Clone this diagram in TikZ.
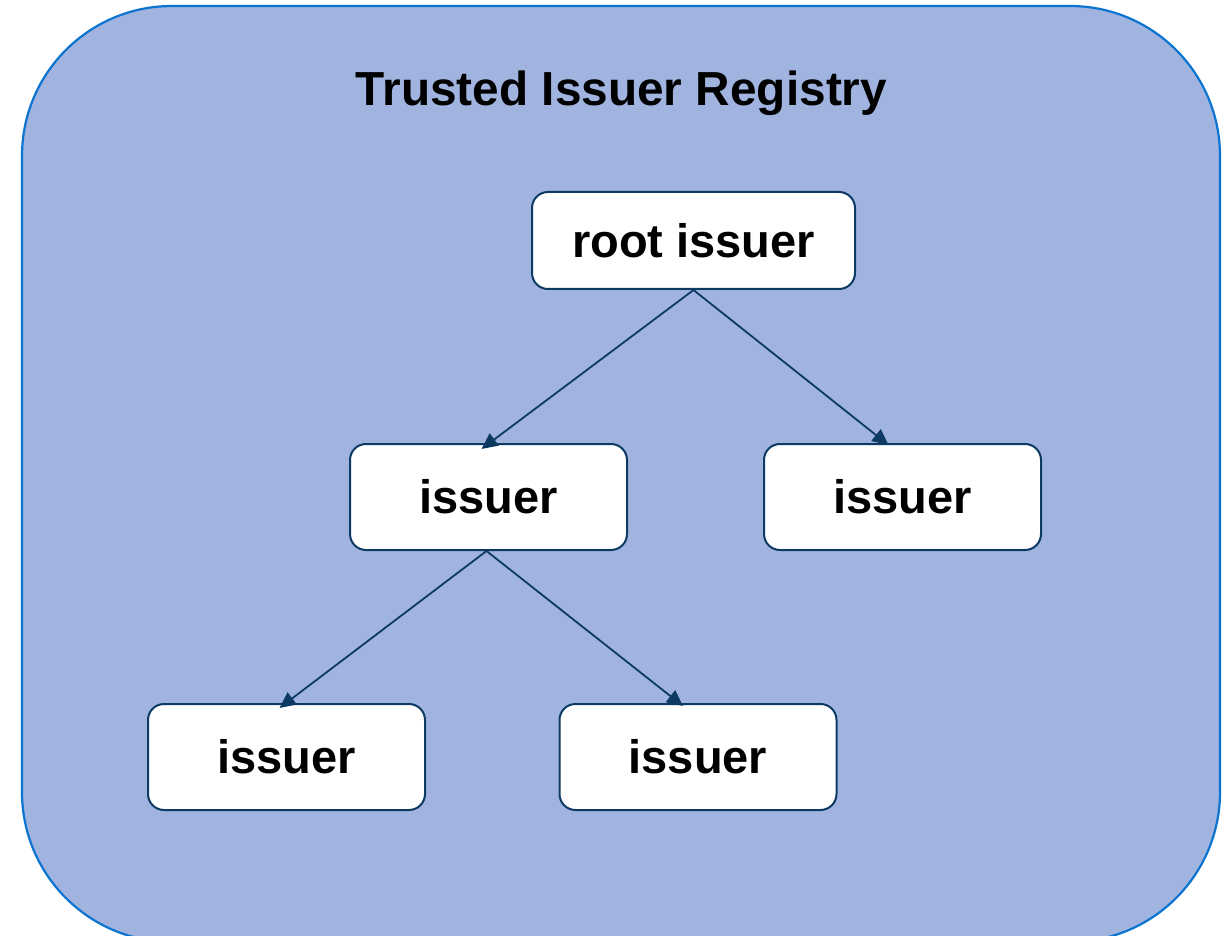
\documentclass[tikz,border=0pt]{standalone}
\usepackage{fontspec}
\setmainfont{Liberation Sans}
\usetikzlibrary{arrows.meta}
\definecolor{regfill}{HTML}{A1B4E0}
\definecolor{regline}{HTML}{0A74D0}
\definecolor{navy}{HTML}{0D3A63}
\tikzset{
  issuerbox/.style={draw=navy, line width=1pt, fill=white, rounded corners=8pt,
    font=\fontsize{23.5}{28}\selectfont\bfseries, inner sep=0pt},
  link/.style={draw=navy, line width=0.9pt, -{Triangle[length=8pt,width=7.5pt]}}
}
\begin{document}
\begin{tikzpicture}[x=0.5pt,y=-0.5pt]
\useasboundingbox (0,0) rectangle (1232,936);
\begin{scope}
\clip (0,0) rectangle (1232,936);
\path[fill=regfill, draw=regline, line width=1.1pt, rounded corners=75pt] (22,6) rectangle (1220,942);
\end{scope}
\node[font=\fontsize{23.9}{28}\selectfont\bfseries, anchor=base] (title) at (621.5,106) {Trusted Issuer Registry};
\node[issuerbox, minimum width=161.5pt, minimum height=48.5pt] (root) at (693.5,240.5) {root issuer};
\node[issuerbox, minimum width=138.5pt, minimum height=53pt] (m1) at (488.5,497) {issuer};
\node[issuerbox, minimum width=138.5pt, minimum height=53pt] (m2) at (902.5,497) {issuer};
\node[issuerbox, minimum width=138.5pt, minimum height=53pt] (b1) at (286.5,757) {issuer};
\node[issuerbox, minimum width=138.5pt, minimum height=53pt] (b2) at (698,757) {issuer};
\draw[link] (root.south) -- ([shift={(-7,6)}]m1.north);
\draw[link] (root.south) -- ([shift={(-14,2)}]m2.north);
\draw[link] ([xshift=-1pt]m1.south) -- ([shift={(-7,5)}]b1.north);
\draw[link] ([xshift=-1pt]m1.south) -- ([shift={(-15,3)}]b2.north);
\end{tikzpicture}
\end{document}
